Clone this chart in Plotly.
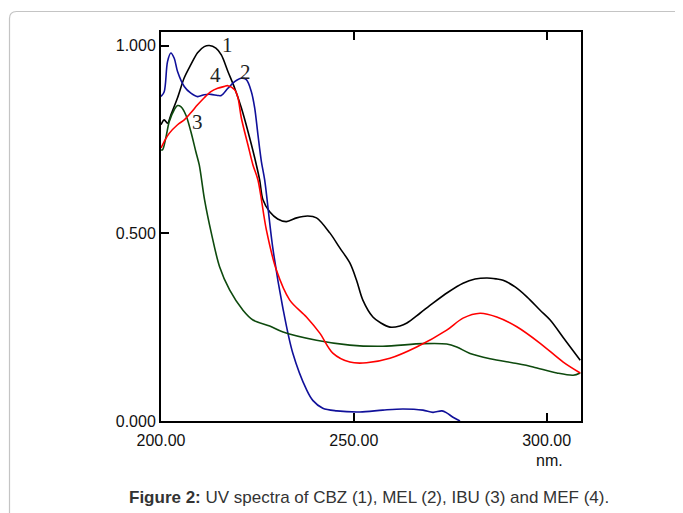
import plotly.graph_objects as go

# ---- data (wavelength nm, absorbance) ----
cbz_x = [200.0, 200.83, 201.69, 202.55, 204.29, 206.03, 207.74, 209.48, 211.22, 212.52, 214.23, 215.64,
         217.35, 219.09, 220.83, 222.55, 224.29, 225.58, 226.44, 228.18, 230.26, 232.52, 235.19, 238.05,
         240.31, 243.77, 246.36, 248.96, 250.70, 252.34, 254.94, 257.01, 259.35, 261.95, 263.77, 267.14,
         270.52, 274.42, 278.31, 281.43, 284.55, 287.14, 288.70, 291.82, 294.94, 298.31, 300.91, 304.81, 308.70]
cbz_y = [0.789, 0.802, 0.793, 0.815, 0.861, 0.914, 0.949, 0.981, 0.997, 1.000, 0.993, 0.975,
         0.931, 0.887, 0.834, 0.771, 0.701, 0.642, 0.589, 0.557, 0.538, 0.531, 0.541, 0.546,
         0.541, 0.501, 0.461, 0.421, 0.375, 0.322, 0.277, 0.261, 0.250, 0.253, 0.261, 0.287,
         0.314, 0.343, 0.367, 0.378, 0.381, 0.378, 0.375, 0.357, 0.330, 0.295, 0.269, 0.215, 0.162]

mel_x = [200.0, 200.83, 201.69, 202.55, 203.43, 204.29, 206.03, 207.74, 209.48, 211.22, 212.94, 214.68,
         215.64, 217.35, 219.09, 220.83, 222.13, 223.43, 224.29, 225.14, 226.03, 226.88, 228.96, 231.56,
         234.16, 237.79, 239.35, 241.95, 245.58, 251.56, 257.53, 262.73, 267.92, 270.52, 272.86, 274.16,
         275.71, 277.53]
mel_y = [0.864, 0.877, 0.957, 0.980, 0.966, 0.931, 0.891, 0.873, 0.864, 0.869, 0.870, 0.867,
         0.867, 0.886, 0.904, 0.913, 0.909, 0.877, 0.834, 0.762, 0.691, 0.642, 0.463, 0.303,
         0.181, 0.082, 0.055, 0.034, 0.027, 0.024, 0.029, 0.032, 0.029, 0.023, 0.027, 0.021,
         0.010, 0.000]

ibu_x = [200.0, 200.39, 201.25, 202.13, 203.43, 204.29, 205.14, 206.44, 207.74, 209.04, 209.92, 211.30,
         213.04, 215.19, 217.79, 221.25, 223.84, 228.18, 231.64, 240.31, 248.96, 257.53, 267.92, 274.08,
         276.68, 280.13, 285.32, 292.26, 296.49, 302.65, 306.88, 308.70]
ibu_y = [0.722, 0.722, 0.754, 0.797, 0.829, 0.840, 0.837, 0.815, 0.771, 0.717, 0.682, 0.589,
         0.501, 0.411, 0.349, 0.295, 0.269, 0.253, 0.237, 0.215, 0.202, 0.199, 0.206, 0.205,
         0.197, 0.180, 0.166, 0.153, 0.144, 0.128, 0.122, 0.128]

mef_x = [200.0, 200.83, 202.13, 204.29, 206.03, 207.74, 209.48, 211.22, 212.94, 214.68, 216.42, 217.35,
         219.09, 219.95, 220.83, 222.55, 223.84, 225.14, 227.32, 229.92, 233.38, 237.71, 241.17, 244.55,
         248.96, 253.30, 259.35, 266.29, 274.08, 278.31, 282.73, 287.06, 292.26, 298.31, 304.29, 308.70]
mef_y = [0.727, 0.744, 0.766, 0.789, 0.802, 0.821, 0.842, 0.861, 0.877, 0.886, 0.891, 0.893,
         0.882, 0.861, 0.807, 0.735, 0.682, 0.642, 0.509, 0.402, 0.322, 0.277, 0.234, 0.181,
         0.157, 0.155, 0.167, 0.197, 0.242, 0.274, 0.287, 0.277, 0.251, 0.207, 0.157, 0.128]

curve_labels = ["1", "2", "3", "4"]
label_x = [217.3, 221.9, 209.5, 214.2]
label_y = [1.002, 0.930, 0.797, 0.922]

x_ticks = [200, 250, 300]
x_ticklabels = ["200.00", "250.00", "300.00"]
y_ticks = [0.0, 0.5, 1.0]
y_ticklabels = ["0.000", "0.500", "1.000"]

caption = "<b>Figure 2:</b> UV spectra of CBZ (1), MEL (2), IBU (3) and MEF (4)."

fig = go.Figure()
series = [
    (cbz_x, cbz_y, "#000000", "CBZ"),
    (mel_x, mel_y, "#10109a", "MEL"),
    (ibu_x, ibu_y, "#0e4a0e", "IBU"),
    (mef_x, mef_y, "#ff0000", "MEF"),
]
for xs, ys, col, nm in series:
    fig.add_trace(go.Scatter(x=xs, y=ys, mode="lines", name=nm,
                             line=dict(color=col, width=1.6, shape="spline", smoothing=0.9),
                             hoverinfo="skip"))

for t, lx, ly in zip(curve_labels, label_x, label_y):
    fig.add_annotation(x=lx, y=ly, text=t, showarrow=False, xref="x", yref="y",
                       font=dict(family="Liberation Serif", size=21, color="#222"))

# page has an 8px body margin, so the figure is offset by 8px
L, T, W, H = 153, 24, 420, 389
R, B = 683 - L - W, 513 - T - H
OFF = 8
def px(xp):
    return (xp - OFF - L) / W
def py(yp):
    return (T + H - (yp - OFF)) / H

x0, x1, yt, yb = px(9.5), px(682.5), py(11.5), py(540)
rx, ry = 7 / W, 7 / H
path = (f"M {x0},{yb} L {x0},{yt - ry} Q {x0},{yt} {x0 + rx},{yt} "
        f"L {x1 - rx},{yt} Q {x1},{yt} {x1},{yt - ry} L {x1},{yb}")
fig.add_shape(type="path", path=path, xref="paper", yref="paper",
              line=dict(color="#c4c4c4", width=1.2), layer="below")

fig.add_annotation(x=px(549), y=py(461), xref="paper", yref="paper", text="nm.", showarrow=False,
                   xanchor="center", yanchor="middle",
                   font=dict(family="Liberation Sans", size=16, color="#111"))
fig.add_annotation(x=px(369), y=py(497), xref="paper", yref="paper", text=caption, showarrow=False,
                   xanchor="center", yanchor="middle",
                   font=dict(family="Liberation Sans", size=17, color="#333"))

fig.update_layout(
    width=683, height=513,
    margin=dict(l=L, r=R, t=T, b=B, pad=0),
    paper_bgcolor="white", plot_bgcolor="white",
    showlegend=False,
    xaxis=dict(range=[200, 308.9], tickvals=x_ticks, ticktext=x_ticklabels,
               ticks="inside", ticklen=8, tickwidth=1.5, tickcolor="black",
               showline=True, linecolor="black", linewidth=2, mirror="ticks",
               showgrid=False, zeroline=False, ticklabelstandoff=4,
               tickfont=dict(family="Liberation Sans", size=16, color="#111")),
    yaxis=dict(range=[0, 1.036], tickvals=y_ticks, ticktext=y_ticklabels,
               ticks="inside", ticklen=8, tickwidth=1.5, tickcolor="black",
               showline=True, linecolor="black", linewidth=2, mirror=True,
               showgrid=False, zeroline=False,
               tickfont=dict(family="Liberation Sans", size=16, color="#111")),
)

fig.write_html("out.html")
